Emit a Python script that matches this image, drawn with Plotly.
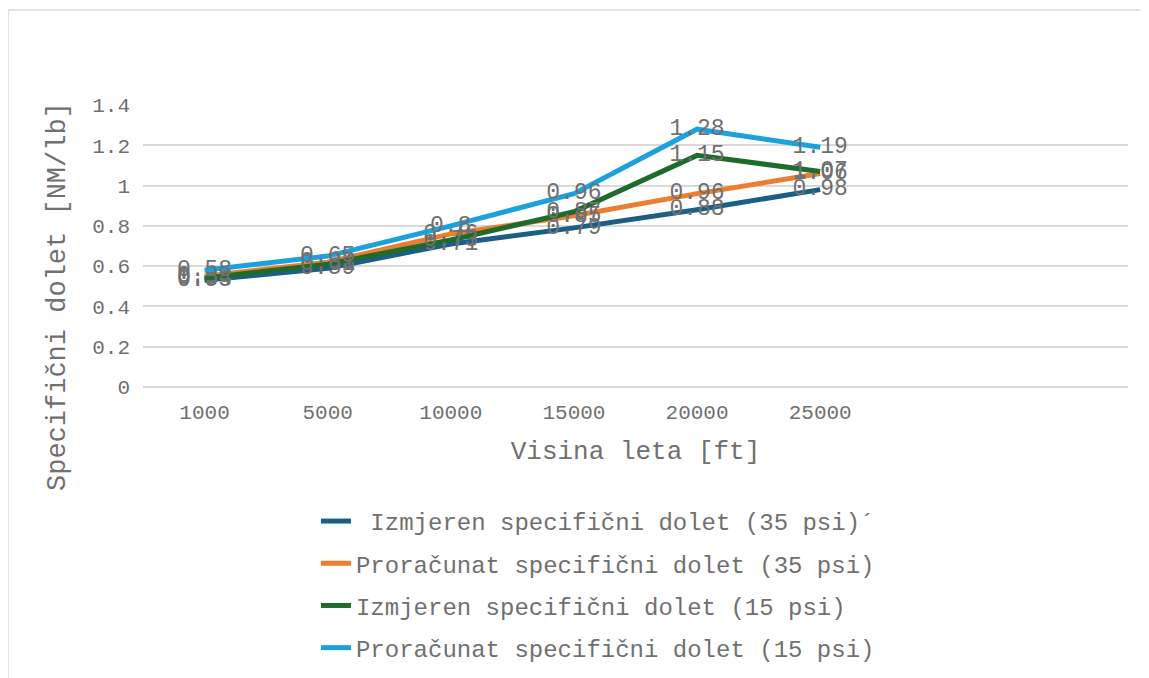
import plotly.graph_objects as go

altitudes = ["1000", "5000", "10000", "15000", "20000", "25000"]
izm_35 = [0.53, 0.59, 0.71, 0.79, 0.88, 0.98]
pror_35 = [0.55, 0.62, 0.76, 0.85, 0.96, 1.06]
izm_15 = [0.54, 0.61, 0.73, 0.87, 1.15, 1.07]
pror_15 = [0.58, 0.65, 0.80, 0.96, 1.28, 1.19]

names = [" Izmjeren specifični dolet (35 psi)´",
         "Proračunat specifični dolet (35 psi)",
         "Izmjeren specifični dolet (15 psi)",
         "Proračunat specifični dolet (15 psi)"]
colors = ["#1B5F84", "#ED7D31", "#1E6B2C", "#1BA1DB"]
series = [izm_35, pror_35, izm_15, pror_15]

FONT = "Liberation Mono, Courier New, monospace"
GRAY = "#707070"

xpos = list(range(len(altitudes)))

fig = go.Figure()
for i, (nm, col, vals) in enumerate(zip(names, colors, series)):
    fig.add_trace(go.Scatter(
        x=xpos, y=vals, name=nm, mode="lines+text",
        line=dict(color=col, width=5),
        text=[f"{v:g}" for v in vals], textposition="middle center",
        textfont=dict(family=FONT, size=23, color=GRAY),
        legendgroup=f"g{i}",
    ))

fig.update_layout(
    width=1149, height=678,
    margin=dict(l=135, r=29, t=97, b=299, autoexpand=False),
    paper_bgcolor="white", plot_bgcolor="white",
    font=dict(family=FONT, color=GRAY),
    showlegend=True,
    legend=dict(x=0.1756, xanchor="left", y=-0.397, yanchor="top",
                font=dict(family=FONT, size=24, color=GRAY),
                tracegroupgap=8, itemwidth=30),
    xaxis=dict(range=[-0.5, 7.5], tickvals=xpos, ticktext=altitudes,
               showgrid=False, zeroline=False, showline=False,
               ticks="", ticklabelstandoff=10,
               tickfont=dict(family=FONT, size=21, color=GRAY),
               title=dict(text="Visina leta [ft]",
                          font=dict(family=FONT, size=26, color=GRAY),
                          standoff=16)),
    yaxis=dict(range=[0, 1.4], dtick=0.2,
               showgrid=True, gridcolor="#D9D9D9", gridwidth=1.5,
               zeroline=True, zerolinecolor="#D9D9D9", zerolinewidth=1.5,
               showline=False, ticks="", ticklabelstandoff=12,
               tickfont=dict(family=FONT, size=21, color=GRAY)),
    annotations=[dict(text="Specifični dolet [NM/lb]", textangle=-90,
                      xref="paper", yref="paper",
                      x=(58 - 143) / 985, y=(387 - 297) / 282,
                      xanchor="center", yanchor="middle", showarrow=False,
                      font=dict(family=FONT, size=27, color=GRAY))],
)

fig.add_shape(type="rect", xref="paper", yref="paper",
              x0=(8 - 143) / 985, x1=1.2, y0=-1.5, y1=(387 - 10) / 282,
              line=dict(color="#D9D9D9", width=1.5), fillcolor="rgba(0,0,0,0)",
              layer="below")

fig.write_html("out.html")
